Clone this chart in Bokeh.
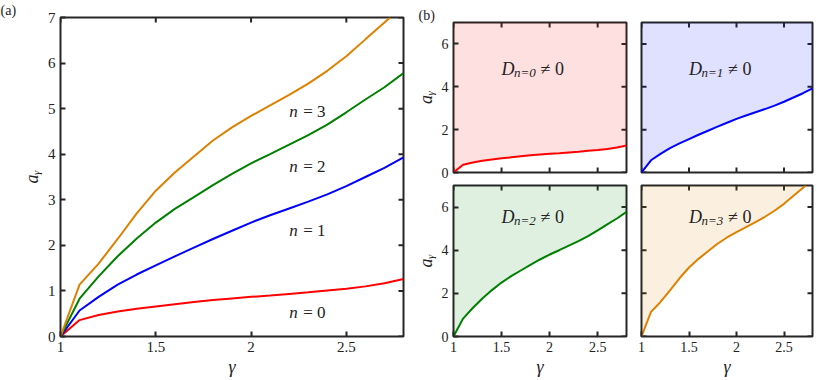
import numpy as np
from bokeh.plotting import figure
from bokeh.layouts import row, column
from bokeh.models import FixedTicker, Range1d
from bokeh.core.properties import value
from bokeh.embed import file_html
from bokeh.resources import INLINE

# ---------------- data ----------------
gamma = [1.0, 1.1, 1.2, 1.3, 1.4, 1.5, 1.6, 1.7, 1.8, 1.9, 2.0,
         2.1, 2.2, 2.3, 2.4, 2.5, 2.6, 2.7, 2.8]
a_n0 = [0.0, 0.36, 0.47, 0.55, 0.61, 0.66, 0.71, 0.755, 0.80, 0.835, 0.87,
        0.90, 0.935, 0.97, 1.01, 1.05, 1.10, 1.17, 1.26]
a_n1 = [0.0, 0.57, 0.87, 1.14, 1.36, 1.56, 1.76, 1.95, 2.14, 2.32, 2.50,
        2.66, 2.81, 2.96, 3.12, 3.30, 3.50, 3.70, 3.93]
a_n2 = [0.0, 0.83, 1.32, 1.76, 2.15, 2.50, 2.80, 3.06, 3.32, 3.57, 3.80,
        4.00, 4.21, 4.42, 4.65, 4.92, 5.20, 5.47, 5.78]
gamma_n3 = [1.0, 1.1, 1.2, 1.3, 1.4, 1.5, 1.6, 1.7, 1.8, 1.9, 2.0,
            2.1, 2.2, 2.3, 2.4, 2.5, 2.6, 2.73]
a_n3 = [0.0, 1.14, 1.60, 2.14, 2.70, 3.20, 3.60, 3.95, 4.30, 4.59, 4.84,
        5.07, 5.30, 5.55, 5.83, 6.15, 6.52, 7.0]

series_nums = ["0", "1", "2", "3"]
colors = ["#FF0000", "#0000FF", "#008000", "#DE8100"]

x_ticks = [1.0, 1.5, 2.0, 2.5]
x_tick_labels = ["1", "1.5", "2", "2.5"]
ya_ticks = [0, 1, 2, 3, 4, 5, 6, 7]
yb_ticks = [0, 2, 4, 6]

# label positions (data coords) for panel (a)
label_x = [2.2, 2.2, 2.2, 2.2]
label_y = [0.52, 2.33, 3.73, 4.94]

X_MIN, X_MAX, Y_MIN, Y_MAX = 1.0, 2.8, 0.0, 7.0

FONT = '"Liberation Serif", serif'
EDGE = "#262626"
TXT = "#222222"

xs = [gamma, gamma, gamma, gamma_n3]
ys = [a_n0, a_n1, a_n2, a_n3]


def tick_marks(p, side, ticks):
    n = len(ticks)
    if side == "top":
        p.scatter(x=ticks, y=[Y_MAX] * n, marker="dash", angle=np.pi / 2, size=10,
                  line_color=EDGE, line_width=2)
    elif side == "bottom":
        p.scatter(x=ticks, y=[Y_MIN] * n, marker="dash", angle=np.pi / 2, size=10,
                  line_color=EDGE, line_width=2)
    elif side == "right":
        p.scatter(x=[X_MAX] * n, y=ticks, marker="dash", size=10,
                  line_color=EDGE, line_width=2)
    else:
        p.scatter(x=[X_MIN] * n, y=ticks, marker="dash", size=10,
                  line_color=EDGE, line_width=2)


def style_axis(ax, tick_fs):
    ax.axis_line_color = None
    ax.major_tick_in = 5
    ax.major_tick_out = 0
    ax.major_tick_line_color = EDGE
    ax.major_tick_line_width = 2
    ax.minor_tick_line_color = None
    ax.major_label_text_font = FONT
    ax.major_label_text_font_size = f"{tick_fs}px"
    ax.major_label_text_color = TXT
    ax.major_label_standoff = 5
    ax.axis_label_text_font = FONT
    ax.axis_label_text_font_style = "italic"
    ax.axis_label_text_font_size = "18px"
    ax.axis_label_text_color = TXT


def make_fig(width, height, bl, br, bt, bb, yticks, show_x, show_y, tick_fs):
    p = figure(width=width, height=height,
               x_range=Range1d(X_MIN, X_MAX), y_range=Range1d(Y_MIN, Y_MAX),
               output_backend="svg", toolbar_location=None,
               x_axis_location="below" if show_x else None,
               y_axis_location="left" if show_y else None,
               min_border_left=bl, min_border_right=br,
               min_border_top=bt, min_border_bottom=bb)
    p.grid.visible = False
    p.outline_line_color = EDGE
    p.outline_line_width = 2
    p.background_fill_color = "white"
    p.border_fill_color = None

    if show_x:
        ax = p.xaxis[0]
        ax.ticker = FixedTicker(ticks=x_ticks)
        ax.major_label_overrides = {t: l for t, l in zip(x_ticks, x_tick_labels)}
        style_axis(ax, tick_fs)
        ax.axis_label = "γ"
        ax.axis_label_standoff = 2
    else:
        tick_marks(p, "bottom", x_ticks)
    if show_y:
        ax = p.yaxis[0]
        ax.ticker = FixedTicker(ticks=yticks)
        style_axis(ax, tick_fs)
        ax.axis_label = "aᵧ"
        ax.axis_label_standoff = 3
    else:
        tick_marks(p, "left", yticks)
    tick_marks(p, "top", x_ticks)
    tick_marks(p, "right", yticks)
    return p


def panel_title(p, text, offset):
    p.title.text = text
    p.title.align = "left"
    p.title.offset = offset
    p.title.text_font = FONT
    p.title.text_font_size = "14px"
    p.title.text_font_style = "normal"
    p.title.text_color = TXT
    p.title.standoff = 0


# ---------------- panel (a) ----------------
pa = make_fig(410, 380, 60, 7, 17, 44, ya_ticks, True, True, 15)
for xv, yv, c in zip(xs, ys, colors):
    pa.line(xv, yv, line_color=c, line_width=2)
pa.text(x=label_x, y=label_y, text=["n"] * 4,
        text_font=value(FONT), text_font_style="italic", text_font_size="17px",
        text_baseline="alphabetic", text_align="left", text_color=TXT)
pa.text(x=label_x, y=label_y, text=["= " + s for s in series_nums], x_offset=14,
        text_font=value(FONT), text_font_size="17px",
        text_baseline="alphabetic", text_align="left", text_color=TXT)
panel_title(pa, "(a)", -60)

# ---------------- panel (b) ----------------
subs = []
specs = [  # width, height, bl, br, bt, bb, show_x, show_y, text y
    (223, 183, 43, 7, 22, 11, False, True, 4.85),
    (184, 183, 8, 5, 22, 11, False, False, 4.85),
    (223, 197, 43, 7, 2, 44, True, True, 5.56),
    (184, 197, 8, 5, 2, 44, True, False, 5.56),
]
for i, (w, h, bl, br, bt, bb, sx, sy, ty) in enumerate(specs):
    p = make_fig(w, h, bl, br, bt, bb, yb_ticks, sx, sy, 14)
    top = [Y_MAX] * len(xs[i])
    p.varea(x=xs[i], y1=ys[i], y2=top, fill_color=colors[i], fill_alpha=0.12)
    p.line(xs[i], ys[i], line_color=colors[i], line_width=2)
    p.text(x=[1.5], y=[ty], text=["D"], text_font=value(FONT), text_font_style="italic",
           text_font_size="18px", text_baseline="alphabetic", text_color=TXT)
    p.text(x=[1.5], y=[ty], text=[f"n={series_nums[i]}"], x_offset=12.5, y_offset=4,
           text_font=value(FONT), text_font_style="italic",
           text_font_size="13px", text_baseline="alphabetic", text_color=TXT)
    p.text(x=[1.5], y=[ty], text=["≠ 0"], x_offset=39,
           text_font=value(FONT), text_font_size="18px",
           text_baseline="alphabetic", text_color=TXT)
    subs.append(p)

panel_title(subs[0], "(b)", -35)

layout = row(pa, column(row(subs[0], subs[1]), row(subs[2], subs[3])))

open("out.html", "w").write(file_html(layout, INLINE))
